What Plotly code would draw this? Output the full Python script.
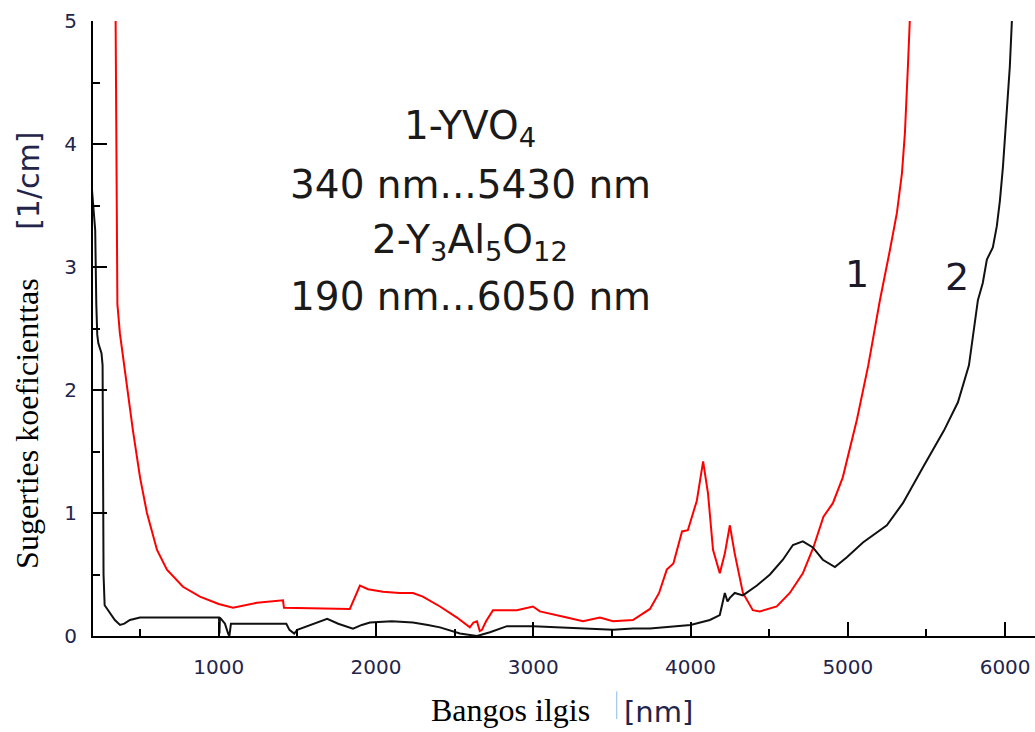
import plotly.graph_objects as go

# ---- data ----
yvo4_nm = [340, 347, 352, 356, 372, 410, 455, 500, 544, 608, 671, 773, 881, 1000, 1091,
           1243, 1409, 1415, 1834, 1898, 1950, 2044, 2150, 2235, 2298, 2407, 2515, 2597,
           2620, 2642, 2660, 2674, 2700, 2744, 2896, 2998, 3042, 3214, 3316, 3424, 3507,
           3634, 3742, 3800, 3849, 3891, 3946, 3983, 4040, 4080, 4111, 4143, 4186, 4218,
           4250, 4281, 4333, 4396, 4440, 4548, 4631, 4714, 4781, 4845, 4905, 4968, 5058,
           5130, 5204, 5268, 5312, 5344, 5363, 5382, 5395, 5410]
yvo4_abs = [6.0, 4.0, 3.0, 2.7, 2.46, 2.1, 1.67, 1.29, 1.0, 0.70, 0.54, 0.40, 0.32, 0.26, 0.23,
            0.27, 0.29, 0.23, 0.22, 0.41, 0.38, 0.36, 0.35, 0.35, 0.32, 0.24, 0.15, 0.07,
            0.11, 0.12, 0.04, 0.05, 0.12, 0.21, 0.21, 0.24, 0.20, 0.15, 0.12, 0.15, 0.12,
            0.13, 0.22, 0.35, 0.54, 0.59, 0.85, 0.86, 1.10, 1.42, 1.16, 0.70, 0.51, 0.67,
            0.90, 0.67, 0.35, 0.21, 0.20, 0.24, 0.35, 0.51, 0.72, 0.97, 1.08, 1.29, 1.76,
            2.2, 2.73, 3.14, 3.44, 3.76, 4.09, 4.63, 5.0, 5.5]

yag_nm = [190, 205, 215, 222, 228, 235, 245, 255, 262, 265, 268, 275, 309, 340, 373, 400,
          436, 500, 700, 881, 1002, 1005, 1008, 1015, 1040, 1060, 1068, 1078, 1200, 1430,
          1450, 1480, 1500, 1560, 1620, 1690, 1760, 1854, 1910, 1962, 2100, 2235, 2330,
          2407, 2534, 2642, 2725, 2833, 3000, 3188, 3350, 3507, 3634, 3742, 4000, 4123,
          4186, 4218, 4235, 4250, 4281, 4333, 4422, 4505, 4587, 4651, 4714, 4778, 4841,
          4918, 4994, 5096, 5248, 5350, 5477, 5611, 5700, 5770, 5827, 5858, 5884, 5922,
          5947, 5967, 5986, 6011, 6030, 6043, 6050]
yag_abs = [3.7, 3.45, 3.3, 2.7, 2.45, 2.38, 2.33, 2.3, 2.2, 1.5, 0.5, 0.25, 0.19, 0.13, 0.09, 0.10,
           0.13, 0.15, 0.15, 0.15, 0.15, 0.02, 0.15, 0.14, 0.10, 0.02, 0.0, 0.10, 0.10, 0.10,
           0.05, 0.02, 0.05, 0.08, 0.11, 0.14, 0.10, 0.06, 0.09, 0.11, 0.12, 0.11, 0.09,
           0.07, 0.02, 0.0, 0.03, 0.08, 0.08, 0.07, 0.06, 0.05, 0.06, 0.06, 0.09, 0.13,
           0.17, 0.35, 0.28, 0.31, 0.35, 0.33, 0.41, 0.50, 0.62, 0.74, 0.77, 0.72, 0.62,
           0.56, 0.64, 0.76, 0.90, 1.08, 1.37, 1.67, 1.90, 2.2, 2.73, 2.87, 3.06, 3.16,
           3.33, 3.54, 3.81, 4.25, 4.63, 5.0, 5.2]

info_lines = ["1-YVO<sub>4</sub>", "340 nm...5430 nm",
              "2-Y<sub>3</sub>Al<sub>5</sub>O<sub>12</sub>", "190 nm...6050 nm"]
info_y = [4.13, 3.67, 3.20, 2.76]
curve_labels = ["1", "2"]
curve_label_x = [5057, 5693]
curve_label_y = [2.94, 2.92]

TICK_COLOR = "#22244a"
SANS = "DejaVu Sans"
SERIF = "Liberation Serif"

fig = go.Figure()
fig.add_trace(go.Scatter(x=yvo4_nm, y=yvo4_abs, mode="lines",
                         line=dict(color="#ff0000", width=2), name="1-YVO4"))
fig.add_trace(go.Scatter(x=yag_nm, y=yag_abs, mode="lines",
                         line=dict(color="#111111", width=2), name="2-Y3Al5O12"))

annotations = []
for txt, yy in zip(info_lines, info_y):
    annotations.append(dict(x=2598, y=yy, xref="x", yref="y", text=txt, showarrow=False,
                            xanchor="center", yanchor="middle",
                            font=dict(family=SANS, size=39, color="#1a1a1a")))
for txt, xx, yy in zip(curve_labels, curve_label_x, curve_label_y):
    annotations.append(dict(x=xx, y=yy, xref="x", yref="y", text=txt, showarrow=False,
                            xanchor="center", yanchor="middle",
                            font=dict(family=SANS, size=38, color="#1a1a2a")))

# axis titles
annotations += [
    dict(x=-0.07, y=0.345, xref="paper", yref="paper", text="Sugerties koeficienttas",
         textangle=-90, showarrow=False, xanchor="center", yanchor="middle",
         font=dict(family=SERIF, size=32, color="black")),
    dict(x=-0.068, y=0.740, xref="paper", yref="paper", text="[1/cm]",
         textangle=-90, showarrow=False, xanchor="center", yanchor="middle",
         font=dict(family=SANS, size=30, color=TICK_COLOR)),
    dict(x=0.443, y=-0.12, xref="paper", yref="paper", text="Bangos ilgis",
         showarrow=False, xanchor="center", yanchor="middle",
         font=dict(family=SERIF, size=32, color="black")),
    dict(x=0.600, y=-0.124, xref="paper", yref="paper", text="[nm]",
         showarrow=False, xanchor="center", yanchor="middle",
         font=dict(family=SANS, size=29, color=TICK_COLOR)),
]

fig.update_layout(
    width=1035, height=732,
    margin=dict(l=93, r=0, t=21, b=96),
    paper_bgcolor="white", plot_bgcolor="white",
    showlegend=False,
    annotations=annotations,
    shapes=[dict(type="line", xref="paper", yref="paper", x0=0.556, x1=0.556,
                 y0=-0.09, y1=-0.135, line=dict(color="#8bbbe8", width=1))],
)

fig.update_xaxes(range=[201, 6190], showgrid=False, zeroline=False,
                 showline=True, linecolor="black", linewidth=2,
                 ticks="inside", ticklen=14, tickwidth=2, tickcolor="black",
                 tick0=0, dtick=1000, ticklabelstandoff=12,
                 minor=dict(ticks="inside", ticklen=7, tickwidth=2, tickcolor="black", dtick=500, tick0=0),
                 tickfont=dict(family=SANS, size=20, color=TICK_COLOR))
fig.update_yaxes(range=[0, 5], showgrid=False, zeroline=False,
                 showline=True, linecolor="black", linewidth=2,
                 ticks="inside", ticklen=14, tickwidth=2, tickcolor="black",
                 tick0=0, dtick=1, ticklabelstandoff=10,
                 minor=dict(ticks="inside", ticklen=7, tickwidth=2, tickcolor="black", dtick=0.5, tick0=0),
                 tickfont=dict(family=SANS, size=20, color=TICK_COLOR))

fig.write_html(
    "out.html",
    config={"displayModeBar": False},
    post_script="document.body.style.margin='0';document.body.style.overflow='hidden';"
                "document.documentElement.style.overflow='hidden';",
)
